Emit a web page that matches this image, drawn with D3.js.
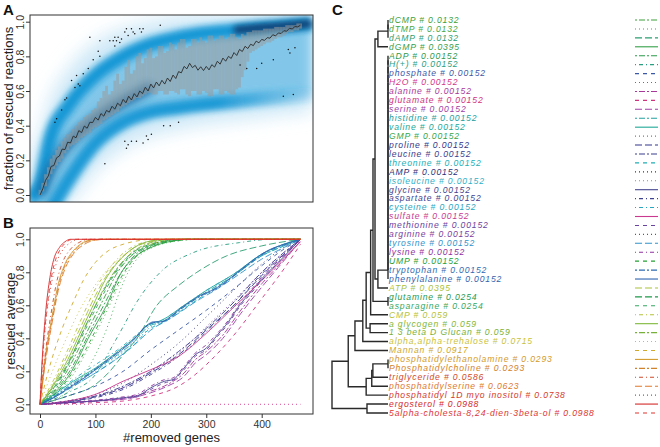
<!DOCTYPE html>
<html><head><meta charset="utf-8">
<script src="https://cdn.jsdelivr.net/npm/d3@7/dist/d3.min.js"></script>
<style>
body{margin:0;background:#fff}
svg{display:block;font-family:"Liberation Sans",Arial,Helvetica,sans-serif}
</style></head>
<body><svg id="chart" width="660" height="447"></svg>
<script>
// ---------------- DATA ----------------
const xTicks = [0, 100, 200, 300, 400];
const yTicks = [0, 0.2, 0.4, 0.6, 0.8, 1.0];

// Panel A: smoothed density ridges (removed genes vs fraction rescued)
const densX       = [-20, 0, 20, 50, 100, 150, 200, 250, 300, 350, 400, 450, 490];
const upperRidge  = [-0.02, 0.06, 0.34, 0.51, 0.69, 0.80, 0.87, 0.91, 0.935, 0.95, 0.965, 0.978, 0.99];
const lowerRidge  = [-0.25, -0.18, -0.08, 0.08, 0.30, 0.42, 0.48, 0.505, 0.525, 0.54, 0.555, 0.57, 0.58];
const outerTop    = [0.22, 0.36, 0.56, 0.72, 0.88, 0.96, 1.0, 1.03, 1.04, 1.05, 1.05, 1.05, 1.05];
const outerBottom = [-0.1, -0.1, -0.1, -0.05, 0.14, 0.27, 0.34, 0.38, 0.41, 0.43, 0.45, 0.47, 0.48];

// Panel A: range band (grey) and mean line
const grayX   = [0,5,10,15,20,25,30,35,40,45,50,55,60,65,70,75,80,85,90,95,100,105,110,115,120,125,130,135,140,145,150,155,160,165,170,175,180,185,190,195,200,205,210,215,220,225,230,235,240,245,250,255,260,265,270,275,280,285,290,295,300,305,310,315,320,325,330,335,340,345,350,355,360,365,370,375,380,385,390,395,400,405,410,415,420,425,430,435,440,445,450,455,460,465,470];
const grayTop = [0.03,0.07,0.12,0.16,0.21,0.23,0.26,0.28,0.31,0.33,0.35,0.36,0.38,0.40,0.42,0.43,0.45,0.46,0.47,0.49,0.50,0.54,0.56,0.60,0.63,0.58,0.60,0.66,0.70,0.64,0.66,0.74,0.78,0.70,0.72,0.80,0.82,0.76,0.79,0.84,0.85,0.79,0.80,0.86,0.86,0.82,0.83,0.88,0.87,0.84,0.88,0.90,0.90,0.85,0.86,0.90,0.90,0.88,0.91,0.89,0.88,0.92,0.92,0.89,0.90,0.92,0.92,0.90,0.91,0.93,0.93,0.91,0.90,0.93,0.92,0.94,0.94,0.95,0.95,0.95,0.95,0.96,0.96,0.96,0.96,0.97,0.97,0.97,0.97,0.98,0.98,0.98,0.98,0.99,0.99];
const grayBot = [0.0,0.02,0.05,0.09,0.12,0.15,0.17,0.19,0.21,0.24,0.26,0.28,0.29,0.30,0.31,0.33,0.34,0.35,0.36,0.38,0.39,0.40,0.41,0.43,0.44,0.45,0.46,0.47,0.48,0.50,0.51,0.52,0.53,0.54,0.55,0.56,0.56,0.57,0.58,0.59,0.59,0.58,0.58,0.60,0.60,0.58,0.58,0.60,0.60,0.59,0.58,0.61,0.61,0.58,0.57,0.60,0.60,0.58,0.58,0.60,0.59,0.57,0.57,0.61,0.61,0.58,0.58,0.60,0.59,0.58,0.58,0.61,0.62,0.68,0.72,0.77,0.82,0.83,0.84,0.85,0.86,0.87,0.88,0.88,0.89,0.90,0.91,0.91,0.92,0.93,0.94,0.94,0.95,0.95,0.96];

const meanX = [0,5,10,15,20,25,30,35,40,45,50,55,60,65,70,75,80,85,90,95,100,105,110,115,120,125,130,135,140,145,150,155,160,165,170,175,180,185,190,195,200,205,210,215,220,225,230,235,240,245,250,255,260,265,270,275,280,285,290,295,300,305,310,315,320,325,330,335,340,345,350,355,360,365,370,375,380,385,390,395,400,405,410,415,420,425,430,435,440,445,450,455,460,465,470];
const meanY = [0.000,0.035,0.085,0.110,0.165,0.170,0.215,0.225,0.265,0.262,0.305,0.300,0.340,0.330,0.372,0.360,0.398,0.385,0.420,0.418,0.448,0.432,0.470,0.455,0.488,0.478,0.512,0.495,0.530,0.515,0.552,0.532,0.570,0.548,0.585,0.566,0.600,0.585,0.622,0.600,0.640,0.618,0.652,0.630,0.662,0.640,0.675,0.655,0.692,0.672,0.712,0.705,0.742,0.728,0.760,0.735,0.748,0.720,0.740,0.718,0.742,0.722,0.752,0.738,0.772,0.755,0.790,0.772,0.800,0.788,0.822,0.805,0.840,0.828,0.858,0.845,0.870,0.862,0.888,0.878,0.898,0.892,0.908,0.905,0.925,0.918,0.935,0.932,0.948,0.945,0.962,0.958,0.972,0.970,0.980];

const dotX = [217,165,168,180,183,171,156,153,159,186,135,141,147,132,138,144,135,126,90,108,105,108,96,87,78,66,57,69,63,72,48,45,39,30,27,153,159,156,165,174,186,192,195,201,117,223,235,250,361,373,391,400,421,439,457,448,451,460];
const dotY = [0.98,0.96,0.94,0.96,0.94,0.93,0.96,0.94,0.92,0.96,0.91,0.91,0.90,0.89,0.89,0.88,0.86,0.89,0.91,0.89,0.83,0.80,0.78,0.73,0.70,0.69,0.66,0.64,0.62,0.63,0.56,0.55,0.49,0.44,0.42,0.31,0.29,0.27,0.31,0.31,0.30,0.34,0.32,0.35,0.18,0.40,0.40,0.42,0.75,0.73,0.73,0.76,0.78,0.57,0.58,0.84,0.82,0.85];

// Panel C / B: leaves of the clustering
const leafNames = ["dCMP","dTMP","dAMP","dGMP","ADP","H(+)","phosphate","H2O","alanine","glutamate","serine","histidine","valine","GMP","proline","leucine","threonine","AMP","isoleucine","glycine","aspartate","cysteine","sulfate","methionine","arginine","tyrosine","lysine","UMP","tryptophan","phenylalanine","ATP","glutamine","asparagine","CMP","a glycogen","1 3 beta D Glucan","alpha,alpha-trehalose","Mannan","phosphatidylethanolamine","Phosphatidylcholine","triglyceride","phosphatidylserine","phosphatidyl 1D myo inositol","ergosterol","5alpha-cholesta-8,24-dien-3beta-ol"];
const leafValues = [0.0132,0.0132,0.0132,0.0395,0.00152,0.00152,0.00152,0.00152,0.00152,0.00152,0.00152,0.00152,0.00152,0.00152,0.00152,0.00152,0.00152,0.00152,0.00152,0.00152,0.00152,0.00152,0.00152,0.00152,0.00152,0.00152,0.00152,0.00152,0.00152,0.00152,0.0395,0.0254,0.0254,0.059,0.059,0.059,0.0715,0.0917,0.0293,0.0293,0.0586,0.0623,0.0738,0.0988,0.0988];
const leafColors = ["#3a9f3a","#45a842","#2d9e72","#35a04a","#2b9a4a","#2a9e80","#3a58a8","#d6338a","#a8389a","#d0327e","#a040a8","#22a0a0","#20a898","#33a64a","#33358a","#3a3c8e","#20b0b8","#2e2f78","#30b0c8","#45448e","#3e4090","#28a6c0","#c8398f","#6a42a0","#7a3c9e","#3094cc","#9030a0","#24a034","#2f6ab4","#2f62b0","#a9c23a","#1f9a4c","#35a860","#b4c23a","#7fb83a","#78b13a","#c8c23a","#d0a82a","#d39a2c","#d3822c","#d04a2a","#e0782a","#d53a2a","#d5282a","#e0342e"];
const leafLty = ["twodash","dotted","longdash","solid","twodash","dotdash","dashed","dotted","twodash","dashed","longdash","twodash","solid","dotted","longdash","twodash","dashed","dotted","dotted","solid","dotdash","dotdash","solid","dashed","dotted","longdash","dotdash","dashed","twodash","solid","longdash","longdash","dashed","dotdash","solid","twodash","dotted","dashed","solid","twodash","dotdash","longdash","dotted","solid","dashed"];

// hclust-style merges: [a, b, height]; negative = leaf (1-based), positive = earlier merge row
const merges = [
 [-1,-2,0],[1,-3,0],[2,-4,0.018],
 [-5,-6,0],[4,-7,0],[5,-8,0],[6,-9,0],[7,-10,0],[8,-11,0],[9,-12,0],[10,-13,0],[11,-14,0],[12,-15,0],
 [13,-16,0],[14,-17,0],[15,-18,0],[16,-19,0],[17,-20,0],[18,-21,0],[19,-22,0],[20,-23,0],[21,-24,0],
 [22,-25,0],[23,-26,0],[24,-27,0],[25,-28,0],[26,-29,0],[27,-30,0],
 [28,-31,0.018],[3,29,0.0232],[-32,-33,0],[30,31,0.0268],[32,-34,0.031],[-35,-36,0.032],[33,34,0.039],
 [35,-37,0.045],[36,-38,0.059],[-39,-40,0],[38,-41,0.027],[39,-42,0.029],[40,-43,0.039],[37,41,0.071],
 [-44,-45,0.0375],[42,43,0.1]
];

// Panel B: rescued average curves, one per leaf (pairs of [removed genes, rescued average])
const rescued = [
 [[0,0],[30,0.1],[55,0.24],[85,0.44],[115,0.64],[140,0.8],[165,0.9],[195,0.96],[230,0.99],[265,1],[470,1]],
 [[0,0],[30,0.07],[60,0.18],[90,0.36],[120,0.56],[145,0.74],[165,0.86],[195,0.95],[230,0.99],[270,1],[470,1]],
 [[0,0],[50,0.05],[100,0.12],[126,0.2],[150,0.3],[175,0.4],[211,0.6],[250,0.72],[283,0.8],[337,0.9],[400,0.96],[470,1]],
 [[0,0],[30,0.08],[57,0.2],[87,0.4],[120,0.6],[147,0.8],[170,0.89],[200,0.95],[240,0.99],[270,1],[470,1]],
 [[0,0],[30,0.09],[57,0.22],[87,0.42],[118,0.62],[145,0.79],[170,0.9],[200,0.96],[235,0.99],[270,1],[470,1]],
 [[0,0],[50,0.07],[100,0.18],[130,0.35],[150,0.47],[171,0.6],[217,0.8],[277,0.92],[360,0.98],[420,1],[470,1]],
 [[0,0],[50,0.05],[100,0.11],[150,0.2],[200,0.33],[250,0.45],[300,0.57],[350,0.7],[400,0.84],[440,0.94],[470,1]],
 [[0,0],[470,0]],
 [[0,0],[50,0.01],[100,0.02],[150,0.035],[200,0.08],[230,0.12],[260,0.19],[280,0.27],[300,0.32],[330,0.42],[360,0.56],[400,0.73],[430,0.84],[470,0.99]],
 [[0,0],[100,0.01],[150,0.02],[200,0.05],[250,0.11],[280,0.18],[300,0.24],[350,0.42],[400,0.64],[440,0.82],[470,0.97]],
 [[0,0],[50,0.01],[100,0.02],[150,0.03],[200,0.07],[230,0.11],[260,0.17],[280,0.25],[300,0.3],[330,0.4],[360,0.54],[400,0.71],[430,0.83],[470,0.99]],
 [[0,0],[30,0.06],[60,0.13],[100,0.21],[140,0.3],[170,0.38],[195,0.47],[220,0.5],[260,0.59],[300,0.68],[350,0.78],[400,0.9],[440,0.96],[470,1]],
 [[0,0],[30,0.07],[60,0.14],[100,0.22],[140,0.32],[170,0.4],[195,0.48],[220,0.51],[260,0.6],[300,0.69],[350,0.79],[400,0.91],[440,0.97],[470,1]],
 [[0,0],[40,0.05],[70,0.14],[100,0.3],[125,0.5],[140,0.65],[159,0.8],[180,0.9],[210,0.96],[250,0.99],[290,1],[470,1]],
 [[0,0],[50,0.015],[100,0.045],[150,0.1],[200,0.19],[250,0.3],[300,0.45],[350,0.6],[400,0.78],[440,0.91],[470,1]],
 [[0,0],[50,0.02],[100,0.05],[150,0.11],[200,0.2],[250,0.32],[300,0.46],[350,0.62],[400,0.8],[440,0.92],[470,1]],
 [[0,0],[30,0.05],[60,0.11],[100,0.19],[140,0.28],[170,0.36],[195,0.45],[225,0.5],[260,0.58],[300,0.67],[350,0.78],[400,0.9],[440,0.96],[470,1]],
 [[0,0],[50,0.02],[100,0.06],[150,0.13],[200,0.24],[250,0.37],[300,0.53],[343,0.67],[400,0.85],[440,0.95],[470,1]],
 [[0,0],[30,0.06],[60,0.12],[100,0.2],[140,0.29],[170,0.37],[200,0.47],[225,0.5],[260,0.58],[300,0.67],[350,0.78],[400,0.9],[440,0.96],[470,1]],
 [[0,0],[50,0.01],[100,0.02],[150,0.04],[175,0.05],[200,0.1],[225,0.14],[240,0.15],[260,0.22],[280,0.3],[300,0.34],[320,0.42],[340,0.5],[360,0.6],[380,0.68],[400,0.76],[430,0.86],[470,1]],
 [[0,0],[50,0.015],[100,0.04],[150,0.09],[200,0.18],[250,0.29],[300,0.44],[350,0.6],[400,0.79],[440,0.91],[470,1]],
 [[0,0],[30,0.07],[60,0.15],[100,0.24],[140,0.33],[170,0.41],[195,0.48],[220,0.51],[260,0.6],[300,0.69],[350,0.79],[400,0.91],[440,0.97],[470,1]],
 [[0,0],[50,0.02],[100,0.06],[150,0.14],[200,0.21],[250,0.29],[300,0.43],[350,0.59],[400,0.75],[470,0.985]],
 [[0,0],[50,0.008],[100,0.018],[150,0.035],[175,0.045],[200,0.09],[225,0.13],[240,0.145],[260,0.21],[280,0.29],[300,0.33],[320,0.41],[340,0.49],[360,0.59],[380,0.67],[400,0.75],[430,0.86],[470,1]],
 [[0,0],[50,0.02],[100,0.05],[150,0.1],[200,0.2],[250,0.31],[300,0.47],[350,0.63],[400,0.8],[440,0.92],[470,1]],
 [[0,0],[30,0.05],[60,0.11],[100,0.19],[140,0.28],[170,0.36],[200,0.45],[240,0.53],[280,0.62],[320,0.7],[360,0.79],[400,0.88],[440,0.95],[470,1]],
 [[0,0],[50,0.012],[100,0.025],[150,0.045],[175,0.06],[200,0.11],[225,0.15],[240,0.16],[260,0.23],[280,0.31],[300,0.36],[320,0.43],[340,0.51],[360,0.61],[380,0.69],[400,0.77],[430,0.87],[470,1]],
 [[0,0],[30,0.07],[60,0.2],[90,0.38],[122,0.6],[150,0.79],[175,0.9],[205,0.96],[245,0.99],[280,1],[470,1]],
 [[0,0],[25,0.045],[48,0.095],[80,0.165],[108,0.235],[140,0.315],[169,0.395],[193,0.475],[205,0.495],[220,0.5],[235,0.525],[253,0.575],[270,0.615],[289,0.655],[310,0.685],[330,0.725],[349,0.775],[379,0.855],[410,0.925],[440,0.965],[470,1]],
 [[0,0],[25,0.04],[48,0.09],[80,0.16],[108,0.23],[140,0.31],[169,0.39],[193,0.48],[205,0.5],[220,0.5],[235,0.53],[253,0.58],[270,0.62],[289,0.66],[310,0.69],[330,0.73],[349,0.78],[379,0.86],[410,0.93],[440,0.97],[470,1]],
 [[0,0],[25,0.13],[50,0.3],[75,0.48],[100,0.66],[120,0.78],[145,0.88],[170,0.95],[200,0.985],[240,1],[470,1]],
 [[0,0],[25,0.1],[50,0.24],[80,0.46],[110,0.66],[135,0.8],[160,0.9],[190,0.96],[225,0.99],[260,1],[470,1]],
 [[0,0],[25,0.09],[50,0.23],[80,0.44],[110,0.64],[135,0.79],[160,0.89],[190,0.95],[225,0.99],[260,1],[470,1]],
 [[0,0],[25,0.15],[50,0.33],[75,0.52],[100,0.7],[120,0.8],[145,0.9],[170,0.96],[200,0.99],[230,1],[470,1]],
 [[0,0],[25,0.12],[50,0.27],[75,0.45],[100,0.63],[117,0.75],[140,0.86],[170,0.95],[200,0.99],[235,1],[470,1]],
 [[0,0],[25,0.11],[50,0.25],[75,0.42],[100,0.6],[120,0.73],[145,0.85],[170,0.93],[200,0.98],[240,1],[470,1]],
 [[0,0],[20,0.18],[45,0.38],[70,0.56],[95,0.7],[120,0.81],[150,0.9],[180,0.95],[210,0.98],[250,1],[470,1]],
 [[0,0],[15,0.2],[39,0.45],[60,0.62],[78,0.75],[100,0.86],[123,0.93],[150,0.97],[175,0.99],[200,1],[470,1]],
 [[0,0],[10,0.3],[20,0.5],[33,0.73],[45,0.85],[60,0.93],[75,0.975],[90,0.995],[110,1],[470,1]],
 [[0,0],[10,0.28],[20,0.48],[33,0.71],[45,0.84],[60,0.92],[75,0.97],[95,0.995],[115,1],[470,1]],
 [[0,0],[10,0.32],[20,0.55],[30,0.74],[42,0.87],[55,0.94],[70,0.98],[90,1],[470,1]],
 [[0,0],[10,0.26],[20,0.46],[33,0.69],[45,0.82],[60,0.91],[80,0.97],[100,0.995],[120,1],[470,1]],
 [[0,0],[5,0.28],[10,0.48],[20,0.72],[30,0.86],[40,0.93],[55,0.98],[70,1],[470,1]],
 [[0,0],[5,0.33],[10,0.55],[18,0.77],[25,0.88],[35,0.95],[45,0.985],[55,1],[470,1]],
 [[0,0],[5,0.3],[10,0.5],[18,0.72],[25,0.84],[35,0.93],[45,0.975],[60,1],[470,1]]
];

// ---------------- DRAWING ----------------
const FONT = "'Liberation Sans', Arial, Helvetica, sans-serif";
const svg = d3.select("#chart");
const ink = "#222";
const dashMap = {solid:null, dashed:"4,4", dotted:"1,3", dotdash:"1,3,4,3", longdash:"7,3", twodash:"2,2,6,2"};

const boxA = {x0:30, x1:313, y0:15, y1:202};
const boxB = {x0:30, x1:313, y0:228, y1:414};

const x = d3.scaleLinear().domain([0, 400]).range([40, 261.7]);
const yA = d3.scaleLinear().domain([0, 1]).range([195, 21.7]);
const yB = d3.scaleLinear().domain([0, 1]).range([404.3, 239.3]);

const defs = svg.append("defs");
function blur(id, s){
  defs.append("filter").attr("id", id).attr("filterUnits","userSpaceOnUse")
    .attr("x",0).attr("y",0).attr("width",660).attr("height",447)
    .append("feGaussianBlur").attr("stdDeviation", s);
}
blur("b9", 9); blur("b6", 6); blur("b4", 4); blur("b3", 3);
defs.append("clipPath").attr("id","clipA").append("rect")
  .attr("x",boxA.x0).attr("y",boxA.y0).attr("width",boxA.x1-boxA.x0).attr("height",boxA.y1-boxA.y0);
defs.append("clipPath").attr("id","clipB").append("rect")
  .attr("x",boxB.x0).attr("y",boxB.y0).attr("width",boxB.x1-boxB.x0).attr("height",boxB.y1-boxB.y0);
const lg = defs.append("linearGradient").attr("id","lowFade").attr("gradientUnits","userSpaceOnUse")
  .attr("x1", x(320)).attr("x2", x(490)).attr("y1",0).attr("y2",0);
lg.append("stop").attr("offset",0).attr("stop-color","#1e9ad6").attr("stop-opacity",1);
lg.append("stop").attr("offset",1).attr("stop-color","#1e9ad6").attr("stop-opacity",0.15);

// ---- Panel A ----
const gA = svg.append("g").attr("clip-path","url(#clipA)");
const dens = densX.map((d,i)=>({x:d, up:upperRidge[i], lo:lowerRidge[i], ot:outerTop[i], ob:outerBottom[i]}));
const cv = d3.curveMonotoneX;
gA.append("path").datum(dens)
  .attr("d", d3.area().x(d=>x(d.x)).y0(d=>yA(d.ob)).y1(d=>yA(d.ot)).curve(cv))
  .attr("fill","#cde8f7").attr("filter","url(#b9)");
gA.append("path").datum(dens)
  .attr("d", d3.area().x(d=>x(d.x)).y0(d=>yA(d.lo)).y1(d=>yA(d.up)).curve(cv))
  .attr("fill","#82c7ea").attr("filter","url(#b6)");
gA.append("path").datum(dens)
  .attr("d", d3.line().x(d=>x(d.x)).y(d=>yA(d.up)).curve(cv))
  .attr("fill","none").attr("stroke","#1898d6").attr("stroke-width",14).attr("filter","url(#b3)");
gA.append("path").datum(dens)
  .attr("d", d3.line().x(d=>x(d.x)).y(d=>yA(d.lo)).curve(cv))
  .attr("fill","none").attr("stroke","url(#lowFade)").attr("stroke-width",14).attr("filter","url(#b3)");
gA.append("path").datum(dens.filter(d=>d.x>=350))
  .attr("d", d3.line().x(d=>x(d.x)).y(d=>yA(d.up)).curve(cv))
  .attr("fill","none").attr("stroke","#0b3b6e").attr("stroke-width",8).attr("filter","url(#b3)");
const meanPts = meanX.map((d,i)=>({x:d, y:meanY[i]}));
gA.append("path").datum(meanPts.filter(d=>d.x<=200))
  .attr("d", d3.line().x(d=>x(d.x)).y(d=>yA(d.y)).curve(d3.curveBasis))
  .attr("fill","none").attr("stroke","#1a6fa8").attr("stroke-width",10).attr("filter","url(#b4)");

const grayPts = grayX.map((d,i)=>({x:d, t:grayTop[i], b:grayBot[i]}));
gA.selectAll("line.gr").data(grayPts).enter().append("line")
  .attr("x1",d=>x(d.x)).attr("x2",d=>x(d.x)).attr("y1",d=>yA(d.b)).attr("y2",d=>yA(d.t))
  .attr("stroke","#9a9a9a").attr("stroke-opacity",0.55).attr("stroke-width",2.8);
gA.append("path").datum(meanPts)
  .attr("d", d3.line().x(d=>x(d.x)).y(d=>yA(d.y)))
  .attr("fill","none").attr("stroke","#2a2a2a").attr("stroke-width",0.9);
gA.selectAll("circle.dot").data(dotX.map((d,i)=>({x:d,y:dotY[i]}))).enter().append("circle")
  .attr("cx",d=>x(d.x)).attr("cy",d=>yA(d.y)).attr("r",0.75).attr("fill","#111");

function box(b){
  svg.append("rect").attr("x",b.x0).attr("y",b.y0).attr("width",b.x1-b.x0).attr("height",b.y1-b.y0)
    .attr("fill","none").attr("stroke","#333").attr("stroke-width",1);
}
box(boxA);

function yAxis(scale){
  const g = svg.append("g").attr("transform",`translate(${boxA.x0},0)`)
    .call(d3.axisLeft(scale).tickValues(yTicks).tickFormat(d3.format(".1f")).tickSize(4));
  g.select(".domain").remove();
  g.selectAll(".tick line").attr("stroke","#333");
  g.selectAll(".tick text").attr("x",null).attr("dy",null).attr("text-anchor","middle")
    .attr("transform","translate(-6,0) rotate(-90)")
    .attr("font-size",10.5).attr("fill","#333").attr("font-family",FONT);
}
yAxis(yA);

svg.append("text").attr("transform",`translate(13,${(boxA.y0+boxA.y1)/2}) rotate(-90)`)
  .attr("text-anchor","middle").attr("font-size",13).attr("fill",ink).attr("font-family",FONT)
  .text("fraction of rescued reactions");

// ---- Panel B ----
const gB = svg.append("g").attr("clip-path","url(#clipB)");
const lineB = d3.line().x(d=>x(d[0])).y(d=>yB(d[1])).curve(d3.curveMonotoneX);
rescued.forEach((s,i)=>{
  gB.append("path").datum(s).attr("d", lineB).attr("fill","none")
    .attr("stroke", leafColors[i]).attr("stroke-width",0.9)
    .attr("stroke-dasharray", dashMap[leafLty[i]]);
});
box(boxB);
yAxis(yB);
const gx = svg.append("g").attr("transform",`translate(0,${boxB.y1})`)
  .call(d3.axisBottom(x).tickValues(xTicks).tickFormat(d3.format("d")).tickSize(4).tickPadding(3));
gx.select(".domain").remove();
gx.selectAll(".tick line").attr("stroke","#333");
gx.selectAll(".tick text").attr("font-size",10.5).attr("fill","#333").attr("font-family",FONT);

svg.append("text").attr("transform",`translate(15,${(boxB.y0+boxB.y1)/2}) rotate(-90)`)
  .attr("text-anchor","middle").attr("font-size",13).attr("fill",ink).attr("font-family",FONT)
  .text("rescued average");
svg.append("text").attr("x",(boxB.x0+boxB.x1)/2).attr("y",442).attr("font-family",FONT)
  .attr("text-anchor","middle").attr("font-size",13).attr("fill",ink).text("#removed genes");

// ---- Panel C ----
const yLeaf = d3.scalePoint().domain(d3.range(leafNames.length)).range([20, 413]);
const xD = d3.scaleLinear().domain([0, 0.1]).range([388, 332]);
const nodeY = [], nodeH = [];
function pos(ref){ return ref < 0 ? {y: yLeaf(-ref-1), h: 0} : {y: nodeY[ref-1], h: nodeH[ref-1]}; }
const gC = svg.append("g").attr("fill","none").attr("stroke","#2a2a2a").attr("stroke-width",1.4);
merges.forEach((m,i)=>{
  const a = pos(m[0]), b = pos(m[1]), h = m[2];
  nodeY[i] = (a.y + b.y)/2; nodeH[i] = h;
  const path = d3.path();
  path.moveTo(xD(a.h), a.y); path.lineTo(xD(h), a.y);
  path.lineTo(xD(h), b.y); path.lineTo(xD(b.h), b.y);
  gC.append("path").attr("d", path.toString());
});
const gL = svg.append("g");
leafNames.forEach((n,i)=>{
  gL.append("text").attr("x", xD(0)+1).attr("y", yLeaf(i)).attr("dy","0.33em")
    .attr("font-family",FONT).attr("font-size",8.6).attr("letter-spacing",0.85)
    .attr("font-style","italic").attr("fill",leafColors[i])
    .text(`${n} # ${leafValues[i]}`);
  gL.append("line").attr("x1",635).attr("x2",658).attr("y1",yLeaf(i)).attr("y2",yLeaf(i))
    .attr("stroke",leafColors[i]).attr("stroke-width",1.1)
    .attr("stroke-dasharray", dashMap[leafLty[i]]);
});

// panel letters
[["A",3,15],["B",3,228],["C",332,15]].forEach(p=>{
  svg.append("text").attr("x",p[1]).attr("y",p[2]).attr("font-size",15).attr("font-weight","bold")
    .attr("font-family",FONT).attr("fill","#111").text(p[0]);
});
</script></body></html>
